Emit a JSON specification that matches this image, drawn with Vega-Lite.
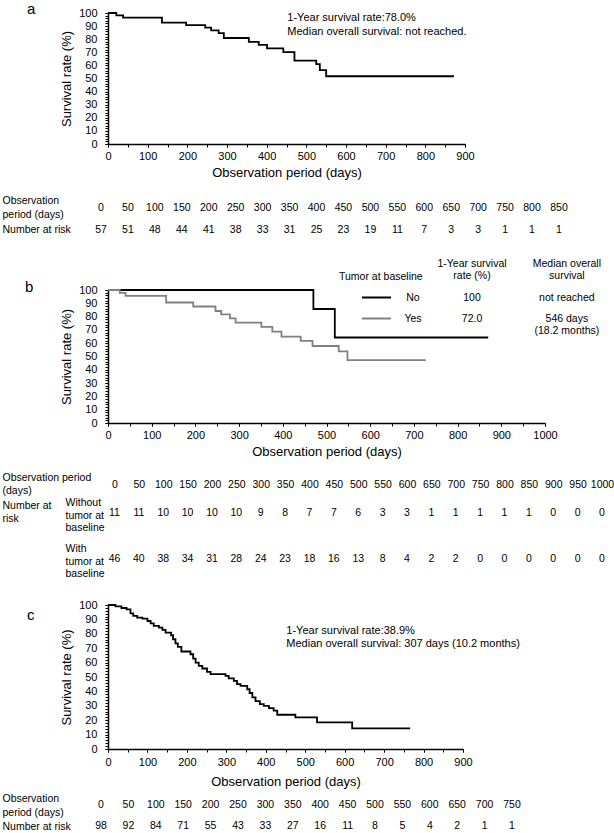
{
  "$schema": "https://vega.github.io/schema/vega-lite/v6.json",
  "padding": {"left": 2, "top": 1, "right": 0, "bottom": 0},
  "bounds": "flush",
  "spacing": 40,
  "resolve": {"scale": {"color": "independent"}, "legend": {"color": "independent"}},
  "datasets": {
    "curveA": [
      {"day": 0, "survival": 100}, {"day": 21, "survival": 98.2}, {"day": 38, "survival": 96.5},
      {"day": 136, "survival": 92.6}, {"day": 197, "survival": 90.8}, {"day": 245, "survival": 88.8},
      {"day": 260, "survival": 86.8}, {"day": 279, "survival": 84.7}, {"day": 292, "survival": 80.9},
      {"day": 355, "survival": 78.0}, {"day": 380, "survival": 75.6}, {"day": 401, "survival": 73.0},
      {"day": 442, "survival": 70.2}, {"day": 470, "survival": 63.6}, {"day": 525, "survival": 61.0},
      {"day": 534, "survival": 56.4}, {"day": 550, "survival": 51.7}, {"day": 872, "survival": 51.7}
    ],
    "curveB": [
      {"tumor": "No", "day": 0, "survival": 100}, {"tumor": "No", "day": 470, "survival": 85.7},
      {"tumor": "No", "day": 519, "survival": 64.3}, {"tumor": "No", "day": 870, "survival": 64.3},
      {"tumor": "Yes", "day": 0, "survival": 100}, {"tumor": "Yes", "day": 27, "survival": 97.9},
      {"tumor": "Yes", "day": 40, "survival": 95.6}, {"tumor": "Yes", "day": 133, "survival": 90.6},
      {"tumor": "Yes", "day": 195, "survival": 87.6}, {"tumor": "Yes", "day": 246, "survival": 84.2},
      {"tumor": "Yes", "day": 259, "survival": 81.7}, {"tumor": "Yes", "day": 279, "survival": 78.7},
      {"tumor": "Yes", "day": 292, "survival": 75.4}, {"tumor": "Yes", "day": 351, "survival": 72.2},
      {"tumor": "Yes", "day": 376, "survival": 68.7}, {"tumor": "Yes", "day": 397, "survival": 64.9},
      {"tumor": "Yes", "day": 441, "survival": 61.7}, {"tumor": "Yes", "day": 468, "survival": 57.9},
      {"tumor": "Yes", "day": 528, "survival": 53.8}, {"tumor": "Yes", "day": 548, "survival": 47.3},
      {"tumor": "Yes", "day": 727, "survival": 47.3}
    ],
    "curveC": [
      {"day": 0, "survival": 100}, {"day": 19, "survival": 99.0}, {"day": 34, "survival": 97.9},
      {"day": 47, "survival": 97.0}, {"day": 57, "survival": 94.2}, {"day": 64, "survival": 92.4},
      {"day": 74, "survival": 91.2}, {"day": 87, "survival": 90.5}, {"day": 100, "survival": 88.9},
      {"day": 108, "survival": 87.3}, {"day": 116, "survival": 85.5}, {"day": 129, "survival": 84.3},
      {"day": 138, "survival": 82.7}, {"day": 146, "survival": 80.8}, {"day": 160, "survival": 79.0},
      {"day": 165, "survival": 76.2}, {"day": 171, "survival": 73.4}, {"day": 177, "survival": 70.9},
      {"day": 186, "survival": 67.7}, {"day": 209, "survival": 65.8}, {"day": 216, "survival": 62.8},
      {"day": 222, "survival": 60.0}, {"day": 230, "survival": 57.7}, {"day": 239, "survival": 55.9},
      {"day": 251, "survival": 53.6}, {"day": 260, "survival": 52.0}, {"day": 298, "survival": 50.8},
      {"day": 306, "survival": 49.0}, {"day": 319, "survival": 47.3}, {"day": 327, "survival": 45.0},
      {"day": 336, "survival": 43.9}, {"day": 353, "survival": 41.5}, {"day": 359, "survival": 38.9},
      {"day": 366, "survival": 35.8}, {"day": 374, "survival": 33.2}, {"day": 385, "survival": 31.2},
      {"day": 395, "survival": 30.0}, {"day": 408, "survival": 28.4}, {"day": 420, "survival": 26.6},
      {"day": 429, "survival": 23.8}, {"day": 475, "survival": 21.9}, {"day": 530, "survival": 18.5},
      {"day": 619, "survival": 14.3}, {"day": 766, "survival": 14.3}
    ],
    "noteA": [{"day": 452, "survival": 101, "label": "1-Year survival rate:78.0%\nMedian overall survival: not reached."}],
    "noteC": [{"day": 452, "survival": 86.3, "label": "1-Year survival rate:38.9%\nMedian overall survival: 307 days (10.2 months)"}],
    "noteB": [
      {"day": 833, "survival": 123.5, "label": "1-Year survival\nrate (%)"},
      {"day": 1050, "survival": 123.5, "label": "Median overall\nsurvival"},
      {"day": 833, "survival": 98.1, "label": "100"},
      {"day": 833, "survival": 82.1, "label": "72.0"},
      {"day": 1050, "survival": 98.1, "label": "not reached"},
      {"day": 1050, "survival": 82.1, "label": "546 days\n(18.2 months)"}
    ],
    "riskA": [
      {"row": "Observation|period (days)", "day": 0, "value": 0}, {"row": "Observation|period (days)", "day": 50, "value": 50},
      {"row": "Observation|period (days)", "day": 100, "value": 100}, {"row": "Observation|period (days)", "day": 150, "value": 150},
      {"row": "Observation|period (days)", "day": 200, "value": 200}, {"row": "Observation|period (days)", "day": 250, "value": 250},
      {"row": "Observation|period (days)", "day": 300, "value": 300}, {"row": "Observation|period (days)", "day": 350, "value": 350},
      {"row": "Observation|period (days)", "day": 400, "value": 400}, {"row": "Observation|period (days)", "day": 450, "value": 450},
      {"row": "Observation|period (days)", "day": 500, "value": 500}, {"row": "Observation|period (days)", "day": 550, "value": 550},
      {"row": "Observation|period (days)", "day": 600, "value": 600}, {"row": "Observation|period (days)", "day": 650, "value": 650},
      {"row": "Observation|period (days)", "day": 700, "value": 700}, {"row": "Observation|period (days)", "day": 750, "value": 750},
      {"row": "Observation|period (days)", "day": 800, "value": 800}, {"row": "Observation|period (days)", "day": 850, "value": 850},
      {"row": "Number at risk", "day": 0, "value": 57}, {"row": "Number at risk", "day": 50, "value": 51},
      {"row": "Number at risk", "day": 100, "value": 48}, {"row": "Number at risk", "day": 150, "value": 44},
      {"row": "Number at risk", "day": 200, "value": 41}, {"row": "Number at risk", "day": 250, "value": 38},
      {"row": "Number at risk", "day": 300, "value": 33}, {"row": "Number at risk", "day": 350, "value": 31},
      {"row": "Number at risk", "day": 400, "value": 25}, {"row": "Number at risk", "day": 450, "value": 23},
      {"row": "Number at risk", "day": 500, "value": 19}, {"row": "Number at risk", "day": 550, "value": 11},
      {"row": "Number at risk", "day": 600, "value": 7}, {"row": "Number at risk", "day": 650, "value": 3},
      {"row": "Number at risk", "day": 700, "value": 3}, {"row": "Number at risk", "day": 750, "value": 1},
      {"row": "Number at risk", "day": 800, "value": 1}, {"row": "Number at risk", "day": 850, "value": 1}
    ],
    "riskB": [
      {"row": "Without|tumor at|baseline", "day": 0, "n": 11}, {"row": "Without|tumor at|baseline", "day": 50, "n": 11},
      {"row": "Without|tumor at|baseline", "day": 100, "n": 10}, {"row": "Without|tumor at|baseline", "day": 150, "n": 10},
      {"row": "Without|tumor at|baseline", "day": 200, "n": 10}, {"row": "Without|tumor at|baseline", "day": 250, "n": 10},
      {"row": "Without|tumor at|baseline", "day": 300, "n": 9}, {"row": "Without|tumor at|baseline", "day": 350, "n": 8},
      {"row": "Without|tumor at|baseline", "day": 400, "n": 7}, {"row": "Without|tumor at|baseline", "day": 450, "n": 7},
      {"row": "Without|tumor at|baseline", "day": 500, "n": 6}, {"row": "Without|tumor at|baseline", "day": 550, "n": 3},
      {"row": "Without|tumor at|baseline", "day": 600, "n": 3}, {"row": "Without|tumor at|baseline", "day": 650, "n": 1},
      {"row": "Without|tumor at|baseline", "day": 700, "n": 1}, {"row": "Without|tumor at|baseline", "day": 750, "n": 1},
      {"row": "Without|tumor at|baseline", "day": 800, "n": 1}, {"row": "Without|tumor at|baseline", "day": 850, "n": 1},
      {"row": "Without|tumor at|baseline", "day": 900, "n": 0}, {"row": "Without|tumor at|baseline", "day": 950, "n": 0},
      {"row": "Without|tumor at|baseline", "day": 1000, "n": 0},
      {"row": "With|tumor at|baseline", "day": 0, "n": 46}, {"row": "With|tumor at|baseline", "day": 50, "n": 40},
      {"row": "With|tumor at|baseline", "day": 100, "n": 38}, {"row": "With|tumor at|baseline", "day": 150, "n": 34},
      {"row": "With|tumor at|baseline", "day": 200, "n": 31}, {"row": "With|tumor at|baseline", "day": 250, "n": 28},
      {"row": "With|tumor at|baseline", "day": 300, "n": 24}, {"row": "With|tumor at|baseline", "day": 350, "n": 23},
      {"row": "With|tumor at|baseline", "day": 400, "n": 18}, {"row": "With|tumor at|baseline", "day": 450, "n": 16},
      {"row": "With|tumor at|baseline", "day": 500, "n": 13}, {"row": "With|tumor at|baseline", "day": 550, "n": 8},
      {"row": "With|tumor at|baseline", "day": 600, "n": 4}, {"row": "With|tumor at|baseline", "day": 650, "n": 2},
      {"row": "With|tumor at|baseline", "day": 700, "n": 2}, {"row": "With|tumor at|baseline", "day": 750, "n": 0},
      {"row": "With|tumor at|baseline", "day": 800, "n": 0}, {"row": "With|tumor at|baseline", "day": 850, "n": 0},
      {"row": "With|tumor at|baseline", "day": 900, "n": 0}, {"row": "With|tumor at|baseline", "day": 950, "n": 0},
      {"row": "With|tumor at|baseline", "day": 1000, "n": 0}
    ],
    "riskC": [
      {"row": "Observation|period (days)", "day": 0, "value": 0}, {"row": "Observation|period (days)", "day": 50, "value": 50},
      {"row": "Observation|period (days)", "day": 100, "value": 100}, {"row": "Observation|period (days)", "day": 150, "value": 150},
      {"row": "Observation|period (days)", "day": 200, "value": 200}, {"row": "Observation|period (days)", "day": 250, "value": 250},
      {"row": "Observation|period (days)", "day": 300, "value": 300}, {"row": "Observation|period (days)", "day": 350, "value": 350},
      {"row": "Observation|period (days)", "day": 400, "value": 400}, {"row": "Observation|period (days)", "day": 450, "value": 450},
      {"row": "Observation|period (days)", "day": 500, "value": 500}, {"row": "Observation|period (days)", "day": 550, "value": 550},
      {"row": "Observation|period (days)", "day": 600, "value": 600}, {"row": "Observation|period (days)", "day": 650, "value": 650},
      {"row": "Observation|period (days)", "day": 700, "value": 700}, {"row": "Observation|period (days)", "day": 750, "value": 750},
      {"row": "Number at risk", "day": 0, "value": 98}, {"row": "Number at risk", "day": 50, "value": 92},
      {"row": "Number at risk", "day": 100, "value": 84}, {"row": "Number at risk", "day": 150, "value": 71},
      {"row": "Number at risk", "day": 200, "value": 55}, {"row": "Number at risk", "day": 250, "value": 43},
      {"row": "Number at risk", "day": 300, "value": 33}, {"row": "Number at risk", "day": 350, "value": 27},
      {"row": "Number at risk", "day": 400, "value": 16}, {"row": "Number at risk", "day": 450, "value": 11},
      {"row": "Number at risk", "day": 500, "value": 8}, {"row": "Number at risk", "day": 550, "value": 5},
      {"row": "Number at risk", "day": 600, "value": 4}, {"row": "Number at risk", "day": 650, "value": 2},
      {"row": "Number at risk", "day": 700, "value": 1}, {"row": "Number at risk", "day": 750, "value": 1}
    ]
  },
  "vconcat": [
    {
      "width": 357, "height": 131,
      "title": {"text": "a", "anchor": "start", "frame": "group", "dx": -81, "offset": -21.7, "fontSize": 15, "baseline": "alphabetic"},
      "resolve": {"axis": {"x": "independent", "y": "independent"}},
      "layer": [
        {
          "data": {"name": "curveA"},
          "mark": {"type": "line", "interpolate": "step-after", "color": "black", "strokeWidth": 1.8},
          "encoding": {
            "x": {"field": "day", "type": "quantitative", "scale": {"domain": [0, 900], "nice": false},
              "axis": {"orient": "bottom", "values": [0,100,200,300,400,500,600,700,800,900], "title": "Observation period (days)"}},
            "y": {"field": "survival", "type": "quantitative", "scale": {"domain": [0, 100], "nice": false},
              "axis": {"orient": "left", "values": [0,10,20,30,40,50,60,70,80,90,100], "title": "Survival rate (%)"}}
          }
        },
        {
          "data": {"name": "noteA"},
          "mark": {"type": "text", "align": "left", "baseline": "top", "lineBreak": "\n", "lineHeight": 14, "fontSize": 11},
          "encoding": {
            "x": {"field": "day", "type": "quantitative",
              "axis": {"orient": "bottom", "values": [0,50,100,150,200,250,300,350,400,450,500,550,600,650,700,750,800,850,900], "labels": false, "domain": false, "title": null}},
            "y": {"field": "survival", "type": "quantitative",
              "axis": {"orient": "left", "values": [0,2,4,6,8,10,12,14,16,18,20,22,24,26,28,30,32,34,36,38,40,42,44,46,48,50,52,54,56,58,60,62,64,66,68,70,72,74,76,78,80,82,84,86,88,90,92,94,96,98,100], "labels": false, "domain": false, "title": null}},
            "text": {"field": "label"}
          }
        }
      ]
    },
    {
      "width": 470, "height": 66,
      "data": {"name": "riskA"},
      "mark": {"type": "text", "fontSize": 10.5},
      "encoding": {
        "x": {"field": "day", "type": "quantitative", "scale": {"domain": [13, 885.3], "nice": false, "zero": false}, "axis": null},
        "y": {"field": "row", "type": "nominal", "sort": ["Observation|period (days)", "Number at risk"], "scale": {"padding": 1.15, "align": 0.543},
          "axis": {"title": null, "ticks": false, "domain": false, "labelAlign": "left", "labelPadding": 106, "labelFontSize": 10.5, "labelLineHeight": 14,
            "labelExpr": "split(datum.label, '|')",
            "labelOffset": {"condition": {"test": "datum.value === 'Number at risk'", "value": 0}, "value": -7}}},
        "text": {"field": "value", "type": "quantitative"}
      }
    },
    {
      "width": 437, "height": 133,
      "title": {"text": "b", "anchor": "start", "frame": "group", "dx": -83, "offset": -48, "fontSize": 15, "baseline": "alphabetic"},
      "resolve": {"axis": {"x": "independent", "y": "independent"}},
      "layer": [
        {
          "data": {"name": "curveB"},
          "mark": {"type": "line", "interpolate": "step-after", "strokeWidth": 1.8},
          "encoding": {
            "x": {"field": "day", "type": "quantitative", "scale": {"domain": [0, 1000], "nice": false},
              "axis": {"orient": "bottom", "values": [0,100,200,300,400,500,600,700,800,900,1000], "format": "d", "title": "Observation period (days)"}},
            "y": {"field": "survival", "type": "quantitative", "scale": {"domain": [0, 100], "nice": false},
              "axis": {"orient": "left", "values": [0,10,20,30,40,50,60,70,80,90,100], "title": "Survival rate (%)"}},
            "color": {"field": "tumor", "type": "nominal", "scale": {"domain": ["No", "Yes"], "range": ["#000000", "#808080"]},
              "legend": {"orient": "none", "legendX": 231, "legendY": -18, "title": "Tumor at baseline", "titleFontSize": 10.5, "titlePadding": 4, "labelFontSize": 10.5, "labelAlign": "center", "labelOffset": 25.5, "symbolType": "M-1.45,0H1.45", "symbolSize": 400, "symbolStrokeWidth": 2, "symbolOffset": 26.5, "rowPadding": 4, "padding": 0}}
          }
        },
        {
          "data": {"name": "noteB"},
          "mark": {"type": "text", "align": "center", "baseline": "top", "lineBreak": "\n", "lineHeight": 12.5, "fontSize": 10.5},
          "encoding": {
            "x": {"field": "day", "type": "quantitative",
              "axis": {"orient": "bottom", "values": [0,50,100,150,200,250,300,350,400,450,500,550,600,650,700,750,800,850,900,950,1000], "labels": false, "domain": false, "title": null}},
            "y": {"field": "survival", "type": "quantitative",
              "axis": {"orient": "left", "values": [0,2,4,6,8,10,12,14,16,18,20,22,24,26,28,30,32,34,36,38,40,42,44,46,48,50,52,54,56,58,60,62,64,66,68,70,72,74,76,78,80,82,84,86,88,90,92,94,96,98,100], "labels": false, "domain": false, "title": null}},
            "text": {"field": "label"}
          }
        }
      ]
    },
    {
      "width": 494, "height": 102,
      "data": {"name": "riskB"},
      "mark": {"type": "text", "fontSize": 10.5},
      "encoding": {
        "x": {"field": "day", "type": "quantitative", "scale": {"domain": [-13.3, 1000], "nice": false, "zero": false},
          "axis": {"orient": "top", "values": [0,50,100,150,200,250,300,350,400,450,500,550,600,650,700,750,800,850,900,950,1000], "format": "d", "ticks": false, "domain": false, "labelPadding": 0, "labelBaseline": "middle", "labelFontSize": 10.5, "offset": -21.5, "labelFlush": false, "labelOverlap": false,
            "title": ["Observation period", "(days)"], "titleX": -106, "titleY": -12.5, "titleAlign": "left", "titleBaseline": "top", "titleAngle": 0, "titleFontSize": 10.5, "titleLineHeight": 13}},
        "y": {"field": "row", "type": "nominal", "sort": ["Without|tumor at|baseline", "With|tumor at|baseline"], "scale": {"padding": 0.6087, "align": 0.9},
          "axis": {"title": ["Number at", "risk"], "titleX": -106, "titleY": 37.5, "titleAlign": "left", "titleBaseline": "top", "titleAngle": 0, "titleFontSize": 10.5, "titleLineHeight": 13,
            "ticks": false, "domain": false, "labelAlign": "left", "labelPadding": 43, "labelFontSize": 10.5, "labelLineHeight": 12.5, "labelOffset": -10.5, "labelExpr": "split(datum.label, '|')"}},
        "text": {"field": "n", "type": "quantitative"}
      }
    },
    {
      "width": 355, "height": 144,
      "title": {"text": "c", "anchor": "start", "frame": "group", "dx": -81, "offset": -36.2, "fontSize": 15, "baseline": "alphabetic"},
      "resolve": {"axis": {"x": "independent", "y": "independent"}},
      "layer": [
        {
          "data": {"name": "curveC"},
          "mark": {"type": "line", "interpolate": "step-after", "color": "black", "strokeWidth": 1.8},
          "encoding": {
            "x": {"field": "day", "type": "quantitative", "scale": {"domain": [0, 900], "nice": false},
              "axis": {"orient": "bottom", "values": [0,100,200,300,400,500,600,700,800,900], "labelPadding": 4.5, "titlePadding": 7.5, "title": "Observation period (days)"}},
            "y": {"field": "survival", "type": "quantitative", "scale": {"domain": [0, 100], "nice": false},
              "axis": {"orient": "left", "values": [0,10,20,30,40,50,60,70,80,90,100], "title": "Survival rate (%)"}}
          }
        },
        {
          "data": {"name": "noteC"},
          "mark": {"type": "text", "align": "left", "baseline": "top", "lineBreak": "\n", "lineHeight": 13.5, "fontSize": 11},
          "encoding": {
            "x": {"field": "day", "type": "quantitative",
              "axis": {"orient": "bottom", "values": [0,50,100,150,200,250,300,350,400,450,500,550,600,650,700,750,800,850,900], "labels": false, "domain": false, "title": null}},
            "y": {"field": "survival", "type": "quantitative",
              "axis": {"orient": "left", "values": [0,2,4,6,8,10,12,14,16,18,20,22,24,26,28,30,32,34,36,38,40,42,44,46,48,50,52,54,56,58,60,62,64,66,68,70,72,74,76,78,80,82,84,86,88,90,92,94,96,98,100], "labels": false, "domain": false, "title": null}},
            "text": {"field": "label"}
          }
        }
      ]
    },
    {
      "width": 404, "height": 42,
      "data": {"name": "riskC"},
      "mark": {"type": "text", "fontSize": 10.5},
      "encoding": {
        "x": {"field": "day", "type": "quantitative", "scale": {"domain": [12.77, 750], "nice": false, "zero": false}, "axis": null},
        "y": {"field": "row", "type": "nominal", "sort": ["Observation|period (days)", "Number at risk"], "scale": {"padding": 0.5, "align": 0.762},
          "axis": {"title": null, "ticks": false, "domain": false, "labelAlign": "left", "labelPadding": 106, "labelFontSize": 10.5, "labelLineHeight": 14,
            "labelExpr": "split(datum.label, '|')",
            "labelOffset": {"condition": {"test": "datum.value === 'Number at risk'", "value": 0}, "value": -7}}},
        "text": {"field": "value", "type": "quantitative"}
      }
    }
  ],
  "config": {
    "font": "Liberation Sans",
    "view": {"stroke": null},
    "axis": {
      "grid": false, "domainColor": "#000000", "tickColor": "#000000", "labelColor": "#000000", "titleColor": "#000000",
      "titleFontWeight": "normal", "titleFontSize": 13, "labelFontSize": 11, "tickSize": 3, "domainWidth": 1.5,
      "labelFlush": false, "labelOverlap": false
    },
    "axisX": {"labelPadding": 3, "titlePadding": 5},
    "axisY": {"labelPadding": 8, "titlePadding": 5.5},
    "legend": {"titleFontWeight": "normal", "titleColor": "#000000", "labelColor": "#000000"},
    "title": {"fontWeight": "normal", "color": "#000000"},
    "text": {"color": "#000000"}
  }
}
